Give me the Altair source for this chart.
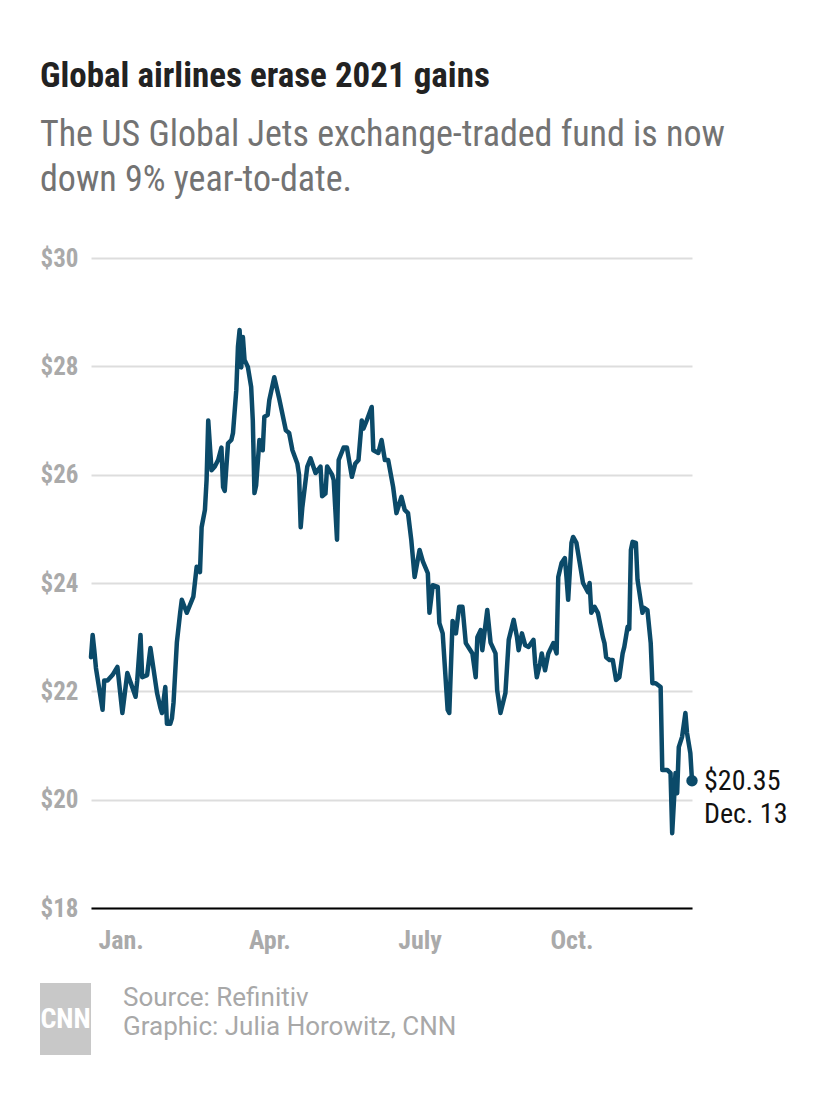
import altair as alt
import pandas as pd
import json

# ---------------- data ----------------
DATES = [
    "2020-12-14", "2020-12-15", "2020-12-16", "2020-12-17", "2020-12-21", "2020-12-22", "2020-12-24",
    "2020-12-27", "2020-12-30", "2021-01-02", "2021-01-05", "2021-01-10", "2021-01-11", "2021-01-13",
    "2021-01-14", "2021-01-17", "2021-01-19", "2021-01-23", "2021-01-25", "2021-01-26", "2021-01-28",
    "2021-01-29", "2021-01-31", "2021-02-01", "2021-02-02", "2021-02-04", "2021-02-06", "2021-02-07",
    "2021-02-10", "2021-02-14", "2021-02-16", "2021-02-18", "2021-02-19", "2021-02-21", "2021-02-22",
    "2021-02-23", "2021-02-25", "2021-02-27", "2021-03-01", "2021-03-03", "2021-03-04", "2021-03-05",
    "2021-03-06", "2021-03-07", "2021-03-09", "2021-03-10", "2021-03-12", "2021-03-13", "2021-03-14",
    "2021-03-15", "2021-03-16", "2021-03-17", "2021-03-19", "2021-03-21", "2021-03-22", "2021-03-23",
    "2021-03-24", "2021-03-26", "2021-03-28", "2021-03-29", "2021-03-31", "2021-04-01", "2021-04-04",
    "2021-04-07", "2021-04-11", "2021-04-13", "2021-04-15", "2021-04-18", "2021-04-19", "2021-04-20",
    "2021-04-21", "2021-04-24", "2021-04-26", "2021-04-29", "2021-05-02", "2021-05-03", "2021-05-05",
    "2021-05-06", "2021-05-09", "2021-05-10", "2021-05-12", "2021-05-13", "2021-05-16", "2021-05-18",
    "2021-05-21", "2021-05-23", "2021-05-25", "2021-05-27", "2021-05-28", "2021-05-30", "2021-06-02",
    "2021-06-03", "2021-06-06", "2021-06-08", "2021-06-10", "2021-06-12", "2021-06-15", "2021-06-17",
    "2021-06-20", "2021-06-22", "2021-06-24", "2021-06-26", "2021-06-28", "2021-07-01", "2021-07-03",
    "2021-07-06", "2021-07-07", "2021-07-09", "2021-07-12", "2021-07-13", "2021-07-15", "2021-07-18",
    "2021-07-19", "2021-07-21", "2021-07-23", "2021-07-25", "2021-07-27", "2021-07-29", "2021-08-02",
    "2021-08-04", "2021-08-05", "2021-08-07", "2021-08-08", "2021-08-11", "2021-08-13", "2021-08-16",
    "2021-08-17", "2021-08-19", "2021-08-22", "2021-08-24", "2021-08-27", "2021-08-29", "2021-08-30",
    "2021-09-01", "2021-09-03", "2021-09-05", "2021-09-08", "2021-09-09", "2021-09-10", "2021-09-12",
    "2021-09-13", "2021-09-15", "2021-09-17", "2021-09-20", "2021-09-22", "2021-09-23", "2021-09-25",
    "2021-09-27", "2021-09-28", "2021-09-29", "2021-10-01", "2021-10-02", "2021-10-04", "2021-10-06",
    "2021-10-08", "2021-10-11", "2021-10-12", "2021-10-13", "2021-10-15", "2021-10-17", "2021-10-20",
    "2021-10-21", "2021-10-22", "2021-10-24", "2021-10-26", "2021-10-28", "2021-10-30", "2021-11-01",
    "2021-11-02", "2021-11-04", "2021-11-05", "2021-11-06", "2021-11-07", "2021-11-09", "2021-11-10",
    "2021-11-13", "2021-11-14", "2021-11-16", "2021-11-18", "2021-11-19", "2021-11-21", "2021-11-24",
    "2021-11-25", "2021-11-28", "2021-11-30", "2021-12-01", "2021-12-03", "2021-12-04", "2021-12-05",
    "2021-12-07", "2021-12-09", "2021-12-10", "2021-12-12", "2021-12-13",
]
PRICES = [
    22.63, 23.04, 22.76, 22.43, 21.66, 22.20, 22.20,
    22.30, 22.45, 21.60, 22.34, 21.90, 22.20, 23.04,
    22.26, 22.30, 22.80, 21.97, 21.70, 21.60, 22.08,
    21.40, 21.40, 21.50, 21.80, 22.90, 23.45, 23.69,
    23.45, 23.75, 24.30, 24.20, 25.03, 25.35, 25.90,
    27.00, 26.08, 26.15, 26.27, 26.50, 25.77, 25.70,
    26.15, 26.58, 26.64, 26.77, 27.56, 28.36, 28.67,
    27.98, 28.54, 28.12, 27.99, 27.62, 27.00, 25.66,
    25.80, 26.64, 26.45, 27.07, 27.10, 27.38, 27.80,
    27.40, 26.82, 26.77, 26.45, 26.20, 26.00, 25.03,
    25.40, 26.15, 26.30, 26.03, 26.15, 25.60, 25.65,
    26.15, 26.00, 25.90, 24.80, 26.27, 26.50, 26.50,
    25.96, 26.20, 26.27, 27.00, 26.85, 27.00, 27.25,
    26.45, 26.40, 26.64, 26.27, 26.27, 25.77, 25.29,
    25.59, 25.35, 25.29, 24.79, 24.11, 24.61, 24.40,
    24.18, 23.45, 23.96, 23.93, 23.26, 23.07, 21.66,
    21.60, 23.30, 23.07, 23.56, 23.56, 22.89, 22.70,
    22.26, 23.00, 23.13, 22.76, 23.50, 22.90, 22.70,
    22.02, 21.60, 21.97, 22.95, 23.32, 23.00, 22.76,
    23.07, 22.85, 22.82, 22.95, 22.52, 22.26, 22.52,
    22.70, 22.39, 22.70, 22.89, 22.70, 24.11, 24.37,
    24.46, 24.10, 23.69, 24.74, 24.85, 24.74, 24.37,
    24.00, 23.83, 24.00, 23.45, 23.56, 23.45, 23.00,
    22.89, 22.63, 22.58, 22.58, 22.21, 22.26, 22.70,
    22.82, 23.19, 23.15, 24.61, 24.76, 24.74, 24.06,
    23.45, 23.54, 23.50, 22.89, 22.15, 22.15, 22.08,
    20.55, 20.55, 20.49, 19.38, 20.49, 20.12, 20.97,
    21.16, 21.60, 21.23, 20.86, 20.35,
]

Y_TICKS = [18, 20, 22, 24, 26, 28, 30]
X_TICK_DATES = [(2021, 1), (2021, 4), (2021, 7), (2021, 10)]
X_TICK_LABELS = ["Jan.", "Apr.", "July", "Oct."]
END_LABEL = "Dec. 13"

TITLE = "Global airlines erase 2021 gains"
SUBTITLE = ["The US Global Jets exchange-traded fund is now", "down 9% year-to-date."]
FOOTER = ["Source: Refinitiv", "Graphic: Julia Horowitz, CNN"]
LOGO = "CNN"

# ---------------- styling ----------------
COND = "Liberation Sans Narrow, Arial Narrow, Roboto Condensed, sans-serif"
SANS = "Roboto, Liberation Sans, sans-serif"
LINE_COLOR = "#0b4a69"
W, H = 601, 650

df = pd.DataFrame({"date": DATES, "price": PRICES})
last = df.iloc[[-1]].copy()
last["label"] = f"${PRICES[-1]:.2f}\n{END_LABEL}"

month_labels = [""] * 12
for (yy, mm), lab in zip(X_TICK_DATES, X_TICK_LABELS):
    month_labels[mm - 1] = lab
label_expr = json.dumps(month_labels).replace('"', "'") + "[utcmonth(datum.value)]"

x_scale = alt.Scale(
    type="utc",
    domain=[alt.DateTime(year=2020, month=12, date=14, utc=True),
            alt.DateTime(year=2021, month=12, date=13, utc=True)],
)
y_scale = alt.Scale(domain=[Y_TICKS[0], Y_TICKS[-1]], nice=False, zero=False)

x_axis = alt.Axis(
    values=[alt.DateTime(year=yy, month=mm, date=1, utc=True) for yy, mm in X_TICK_DATES],
    labelExpr=label_expr, title=None, grid=False, ticks=False, tickSize=0,
    domainColor="#000000", domainWidth=2, labelColor="#aaaaaa", labelFont=COND,
    labelFontSize=26, labelFontWeight="bold", labelPadding=19, labelBaseline="top",
    zindex=1,
)
y_axis = alt.Axis(
    values=Y_TICKS, labelExpr="'$' + datum.value", title=None, domain=False, ticks=False,
    tickSize=0, grid=True, gridColor="#dddddd", gridWidth=2, labelAlign="left",
    labelPadding=51, labelBaseline="middle", labelColor="#aaaaaa", labelFont=COND,
    labelFontSize=25, labelFontWeight="bold",
)

base = alt.Chart(df)
line = base.mark_line(color=LINE_COLOR, strokeWidth=4.5, strokeJoin="round", strokeCap="round").encode(
    x=alt.X("date:T", scale=x_scale, axis=x_axis),
    y=alt.Y("price:Q", scale=y_scale, axis=y_axis),
)
dot = alt.Chart(last).mark_circle(color=LINE_COLOR, size=130, opacity=1).encode(
    x=alt.X("date:T", scale=x_scale), y=alt.Y("price:Q", scale=y_scale)
)
end_text = alt.Chart(last).mark_text(
    align="left", baseline="alphabetic", dx=12, dy=9, font=COND, fontSize=28,
    color="#111111", lineBreak="\n", lineHeight=33,
).encode(x=alt.X("date:T", scale=x_scale), y=alt.Y("price:Q", scale=y_scale), text="label:N")

title = alt.Chart(pd.DataFrame({"t": [TITLE]})).mark_text(
    align="left", baseline="alphabetic", font=COND, fontSize=35, fontWeight="bold", color="#222222"
).encode(x=alt.value(-51), y=alt.value(87 - 258), text="t:N")

subtitle = alt.Chart(pd.DataFrame({"t": ["\n".join(SUBTITLE)]})).mark_text(
    align="left", baseline="alphabetic", font=COND, fontSize=36, color="#737373",
    lineBreak="\n", lineHeight=45,
).encode(x=alt.value(-51), y=alt.value(146 - 258), text="t:N")

logo_box = alt.Chart(pd.DataFrame({"t": [LOGO]})).mark_rect(color="#c8c8c8").encode(
    x=alt.value(-51), x2=alt.value(0), y=alt.value(983 - 258), y2=alt.value(1055 - 258)
)
logo_text = alt.Chart(pd.DataFrame({"t": [LOGO]})).mark_text(
    align="center", baseline="middle", font=COND, fontSize=28, fontWeight="bold", color="#ffffff"
).encode(x=alt.value(-25.5), y=alt.value(1020 - 258), text="t:N")

footer = alt.Chart(pd.DataFrame({"t": ["\n".join(FOOTER)]})).mark_text(
    align="left", baseline="alphabetic", font=SANS, fontSize=26, color="#a8a8a8",
    lineBreak="\n", lineHeight=29,
).encode(x=alt.value(32), y=alt.value(1006 - 258), text="t:N")

chart = alt.layer(line, dot, end_text, title, subtitle, logo_box, logo_text, footer).properties(
    width=W, height=H,
    autosize=alt.AutoSizeParams(type="none"),
    padding={"left": 91, "top": 258, "right": 830 - 91 - W, "bottom": 1106 - 258 - H},
    background="#ffffff",
).configure_view(stroke=None)

chart.save("out.html", embed_options={"renderer": "svg", "actions": False})
